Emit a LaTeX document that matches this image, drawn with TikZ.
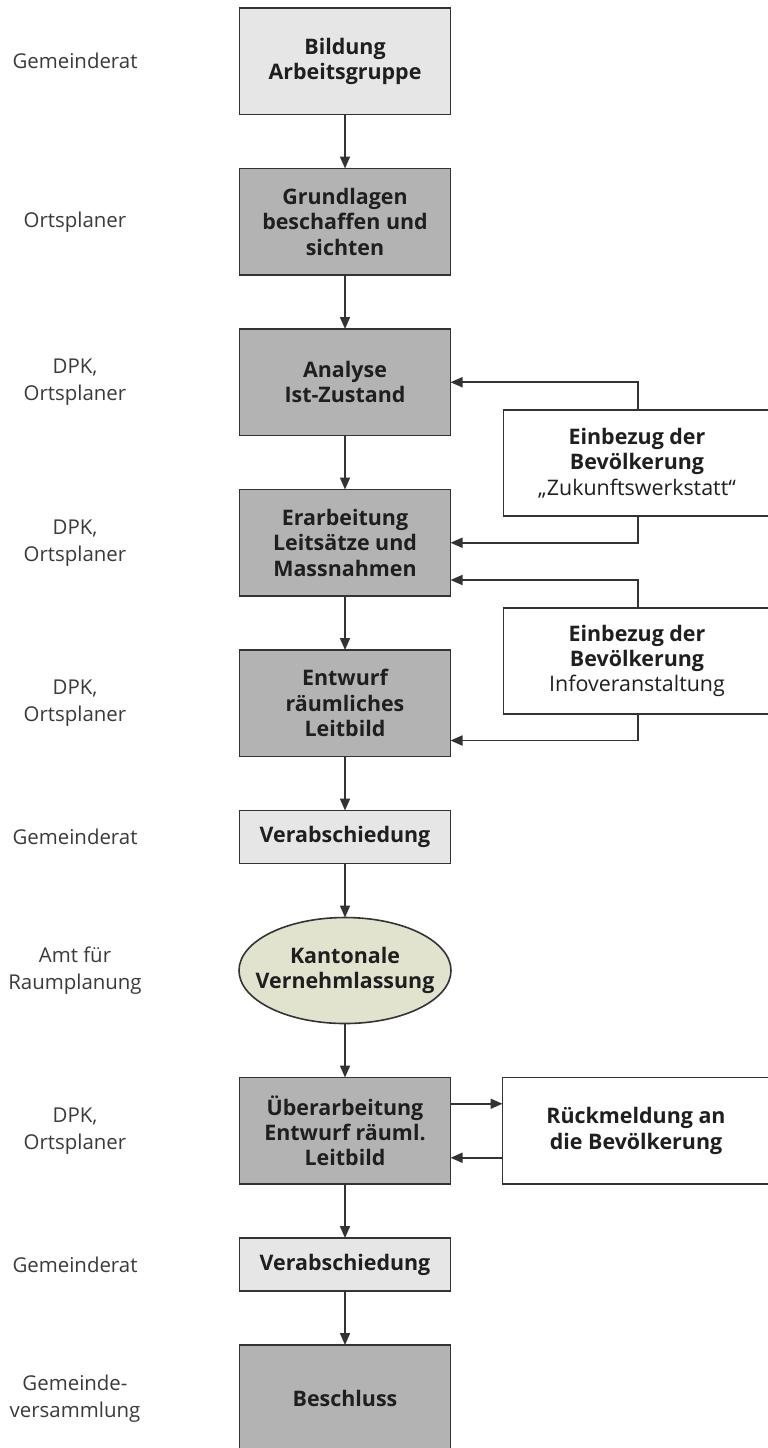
\documentclass[tikz,border=0pt]{standalone}
\usepackage{fontspec}
\setmainfont{Open Sans}
\usetikzlibrary{positioning,shapes.geometric,arrows.meta}

\definecolor{linegray}{HTML}{333333}
\definecolor{lightbox}{HTML}{E6E6E6}
\definecolor{darkbox}{HTML}{B3B3B3}
\definecolor{ovalbox}{HTML}{E2E3CF}
\definecolor{textgray}{HTML}{3A3A3A}

\tikzset{
  box/.style={draw=linegray, line width=1.6bp, outer sep=0pt, minimum width=211bp, align=center,
    font=\fontsize{21.5}{25.5}\selectfont\bfseries, text=black!88, inner sep=2bp},
  tall/.style={minimum height=106.5bp},
  short/.style={minimum height=53bp},
  light/.style={box, fill=lightbox},
  dark/.style={box, fill=darkbox},
  oval/.style={box, ellipse, fill=ovalbox, inner xsep=-22bp, inner ysep=1bp,
    minimum height=106bp, minimum width=212bp},
  side/.style={box, fill=white, minimum height=106bp, minimum width=267bp},
  who/.style={align=center, text=textgray, font=\fontsize{20.5}{27}\selectfont},
  arr/.style={draw=linegray, line width=1.8bp, -{Triangle[length=12bp,width=10bp]}}
}

\begin{document}
\begin{tikzpicture}[x=1bp, y=-1bp, node distance=54bp]
  \useasboundingbox (0,0) rectangle (767,1448);
  \coordinate (whox) at (75,0);
  \coordinate (fb) at (638,0);

  % main column
  \node[light, tall] (b1) at (345,61.25) {Bildung\\Arbeitsgruppe};
  \node[dark, tall] (b2) [below=of b1] {Grundlagen\\beschaffen und\\sichten};
  \node[dark, tall] (b3) [below=of b2] {Analyse\\Ist-Zustand};
  \node[dark, tall] (b4) [below=of b3] {Erarbeitung\\Leitsätze und\\Massnahmen};
  \node[dark, tall] (b5) [below=of b4] {Entwurf\\räumliches\\Leitbild};
  \node[light, short] (b6) [below=of b5] {Verabschiedung};
  \node[oval] (b7) [below=of b6] {Kantonale\\Vernehmlassung};
  \node[dark, tall] (b8) [below=of b7] {Überarbeitung\\Entwurf räuml.\\Leitbild};
  \node[light, short] (b9) [below=of b8] {Verabschiedung};
  \node[dark, tall] (b10) [below=of b9] {Beschluss};

  % who is responsible
  \node[who] at (whox |- b1) {Gemeinderat};
  \node[who] at (whox |- b2) {Ortsplaner};
  \node[who] at (whox |- b3) {DPK,\\Ortsplaner};
  \node[who] at (whox |- b4) {DPK,\\Ortsplaner};
  \node[who] at (whox |- b5) {DPK,\\Ortsplaner};
  \node[who] at (whox |- b6) {Gemeinderat};
  \node[who] at (whox |- b7) {Amt für\\Raumplanung};
  \node[who] at (whox |- b8) {DPK,\\Ortsplaner};
  \node[who] at (whox |- b9) {Gemeinderat};
  \node[who] at (whox |- b10) {Gemeinde-\\versammlung};

  % side boxes
  \node[side] (e1) at (637,463) {Einbezug der\\Bevölkerung\\{\mdseries „Zukunftswerkstatt“}};
  \node[side] (e2) at (637,661) {Einbezug der\\Bevölkerung\\{\mdseries Infoveranstaltung}};
  \node[side, minimum height=106.5bp] (r) [right=52bp of b8] {Rückmeldung an\\die Bevölkerung};

  \foreach \a/\b in {b1/b2, b2/b3, b3/b4, b4/b5, b5/b6, b6/b7, b7/b8, b8/b9, b9/b10}
    \draw[arr] (\a) -- (\b);

  \draw[arr] (e1.north -| fb) |- (b3.east);
  \draw[arr] (e1.south -| fb) |- (b4.east);
  \draw[arr] (e2.north -| fb) |- ([yshift=16bp]b4.south east);
  \draw[arr] (e2.south -| fb) |- ([yshift=16bp]b5.south east);
  \draw[arr] ([yshift=27bp]b8.east) -- ([yshift=27bp]r.west);
  \draw[arr] ([yshift=-27bp]r.west) -- ([yshift=-27bp]b8.east);
\end{tikzpicture}
\end{document}
